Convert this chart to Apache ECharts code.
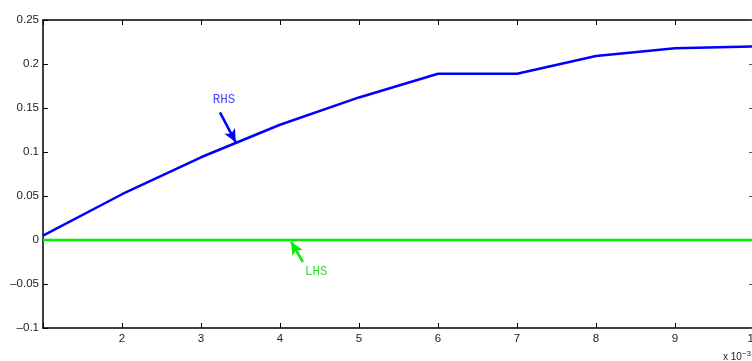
<!DOCTYPE html>
<html>
<head>
<meta charset="utf-8">
<script src="https://cdn.jsdelivr.net/npm/echarts@6/dist/echarts.min.js"></script>
<style>
  html, body { margin: 0; padding: 0; background: #fff; }
  #main { width: 752px; height: 361px; }
</style>
</head>
<body>
<div id="main"></div>
<script>
var xValues = [1, 2, 3, 4, 5, 6, 7, 8, 9, 10]
var rhsValues = [0.005, 0.052, 0.094, 0.131, 0.162, 0.189, 0.189, 0.209, 0.218, 0.220]
var lhsValues = [0, 0, 0, 0, 0, 0, 0, 0, 0, 0]

// annotation anchors, in data units: [tail, head] of each arrow, and the label spot
var rhsArrow = [[3.24, 0.145], [3.44, 0.111]]
var rhsLabelAt = [3.29, 0.159]
var lhsArrow = [[4.29, -0.025], [4.14, -0.002]]
var lhsLabelAt = [4.46, -0.036]

var chart = echarts.init(document.getElementById("main"))

function pairs(ys) {
  return xValues.map(function (x, i) { return [x, ys[i]] })
}

function fmtY(v) {
  var s = String(Math.round(v * 1000) / 1000)
  return s.replace("-", "\u2013")
}

var axisFont = { fontFamily: "Liberation Sans", fontSize: 11.5, color: "#222" }
var axisLine = { show: true, onZero: false, lineStyle: { color: "#000", width: 1.5 } }

var option = {
  animation: false,
  grid: { left: 43, top: 20, width: 711, height: 308, outerBoundsMode: "none", containLabel: false },
  xAxis: [
    {
      type: "value", min: 1, max: 10, interval: 1, position: "bottom",
      axisLine: axisLine,
      axisTick: { inside: true, length: 5, lineStyle: { color: "#000" } },
      axisLabel: Object.assign({ margin: 5, formatter: function (v) { return v === 1 ? "" : String(v) } }, axisFont),
      splitLine: { show: false }
    },
    {
      type: "value", min: 1, max: 10, interval: 1, position: "top",
      axisLine: axisLine,
      axisTick: { inside: true, length: 5, lineStyle: { color: "#000" } },
      axisLabel: { show: false },
      splitLine: { show: false }
    }
  ],
  yAxis: [
    {
      type: "value", min: -0.1, max: 0.25, interval: 0.05, position: "left",
      axisLine: axisLine,
      axisTick: { inside: true, length: 5, lineStyle: { color: "#000" } },
      axisLabel: Object.assign({ margin: 4, formatter: fmtY }, axisFont),
      splitLine: { show: false }
    },
    {
      type: "value", min: -0.1, max: 0.25, interval: 0.05, position: "right",
      axisLine: axisLine,
      axisTick: { inside: true, length: 5, lineStyle: { color: "#555" } },
      axisLabel: { show: false },
      splitLine: { show: false }
    }
  ],
  series: [
    {
      name: "LHS", type: "line", data: pairs(lhsValues), symbol: "none",
      lineStyle: { color: "#00ee00", width: 2.5 }, z: 3,
      markLine: {
        silent: true, animation: false,
        symbol: ["none", "arrow"], symbolSize: [9, 13],
        lineStyle: { color: "#00ee00", width: 2.5, type: "solid" },
        label: { show: false },
        data: [[{ coord: lhsArrow[0] }, { coord: lhsArrow[1] }]]
      }
    },
    {
      name: "RHS", type: "line", data: pairs(rhsValues), symbol: "none",
      lineStyle: { color: "#0000ff", width: 2.5 }, z: 4,
      markLine: {
        silent: true, animation: false,
        symbol: ["none", "arrow"], symbolSize: [9, 13],
        lineStyle: { color: "#0000ff", width: 2.5, type: "solid" },
        label: { show: false },
        data: [[{ coord: rhsArrow[0] }, { coord: rhsArrow[1] }]]
      }
    }
  ]
}
chart.setOption(option)

// text labels placed through the axes' own scales
var rhsPx = chart.convertToPixel({ gridIndex: 0 }, rhsLabelAt)
var lhsPx = chart.convertToPixel({ gridIndex: 0 }, lhsLabelAt)
chart.setOption({
  graphic: [
    {
      type: "text", x: rhsPx[0], y: rhsPx[1],
      style: { text: "RHS", fill: "#4444ff", font: "12.5px 'Liberation Mono'", textAlign: "center", textVerticalAlign: "middle" }
    },
    {
      type: "text", x: lhsPx[0], y: lhsPx[1],
      style: { text: "LHS", fill: "#33dd33", font: "12.5px 'Liberation Mono'", textAlign: "center", textVerticalAlign: "middle" }
    },
    {
      type: "text", left: 723, top: 350,
      style: {
        text: "x 10{s|\u22123}",
        font: "10px 'Liberation Sans'", fill: "#222",
        rich: { s: { fontSize: 8, verticalAlign: "top", padding: [0, 0, 6, 0], fontFamily: "Liberation Sans", fill: "#222" } }
      }
    }
  ]
})
</script>
</body>
</html>
